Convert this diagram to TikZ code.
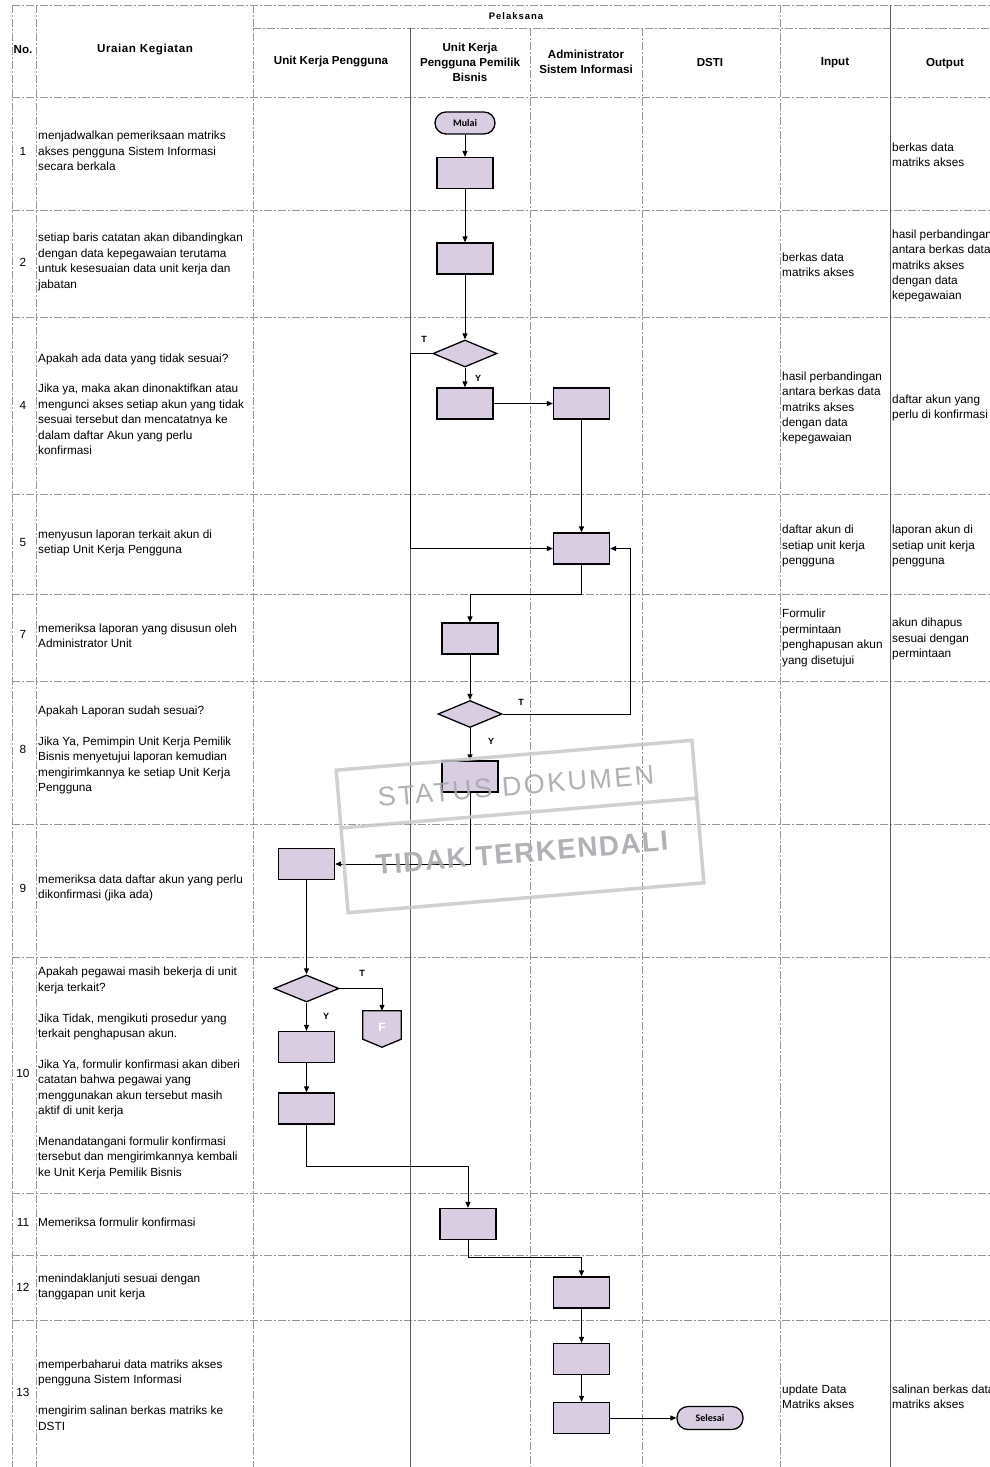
\documentclass[tikz,border=0pt]{standalone}
\usepackage{fontspec}
\setmainfont{Liberation Sans}
\newfontfamily\termfont{Carlito}
\usetikzlibrary{shapes.geometric,arrows.meta}
\definecolor{boxfill}{RGB}{217,205,226}
\definecolor{gridc}{RGB}{150,150,150}
\definecolor{wmark}{RGB}{168,168,174}
\definecolor{wframe}{RGB}{200,200,202}

\begin{document}
\begin{tikzpicture}[x=1pt,y=-1pt,
  every node/.style={inner sep=0pt},
  grid/.style={gridc, line width=0.6pt, dash pattern=on 8pt off 2pt on 2pt off 2pt},
  lane/.style={black!65, line width=0.8pt},
  proc/.style={rectangle, draw=black, fill=boxfill, line width=1.3pt, minimum width=56pt, minimum height=31pt},
  dec/.style={diamond, draw=black, fill=boxfill, line width=1.3pt, minimum width=64pt, minimum height=27pt},
  term/.style={rectangle, rounded corners=11pt, draw=black, fill=boxfill, line width=1.3pt, minimum width=60pt, minimum height=22pt, font=\termfont\bfseries\fontsize{10}{11}\selectfont},
  flow/.style={line width=1pt, -{Triangle[length=6pt,width=5pt]}},
  head/.style={font=\bfseries\fontsize{11.6}{15}\selectfont, align=center},
  desc/.style={anchor=west, align=left, font=\fontsize{11.8}{15.4}\selectfont},
  num/.style={font=\fontsize{11.8}{15.4}\selectfont},
  yt/.style={font=\bfseries\fontsize{9}{10}\selectfont}]
\useasboundingbox (0,0) rectangle (990,1467);

% grid of the table
\draw [grid] (12,5) -- (990,5);
\draw [grid] (253,28) -- (990,28);
\draw [grid] (12,97) -- (990,97);
\draw [grid] (12,210) -- (990,210);
\draw [grid] (12,317) -- (990,317);
\draw [grid] (12,494) -- (990,494);
\draw [grid] (12,594) -- (990,594);
\draw [grid] (12,681) -- (990,681);
\draw [grid] (12,824) -- (990,824);
\draw [grid] (12,957) -- (990,957);
\draw [grid] (12,1193) -- (990,1193);
\draw [grid] (12,1255) -- (990,1255);
\draw [grid] (12,1320) -- (990,1320);
\draw [grid] (12,5) -- (12,1467);
\draw [grid] (36,5) -- (36,1467);
\draw [grid] (253,5) -- (253,1467);
\draw [lane] (410,28) -- (410,1467);
\draw [grid] (530,28) -- (530,1467);
\draw [grid] (642,28) -- (642,1467);
\draw [grid] (780,5) -- (780,1467);
\draw [lane] (890,5) -- (890,1467);

% header
\node (hno) [head] at (23,50) {No.};
\node (hur) [head, font=\bfseries\fontsize{11.6}{15}\selectfont\addfontfeature{LetterSpace=5}] at (145,50) {Uraian Kegiatan};
\node (hpel) [head, font=\bfseries\fontsize{9.5}{11}\selectfont\addfontfeature{LetterSpace=10}] at (516,16) {Pelaksana};
\node (hukp) [head] at (331,62) {Unit Kerja Pengguna};
\node (hpb) [head] at (470,62) {Unit Kerja\\Pengguna Pemilik\\Bisnis};
\node (hadm) [head] at (586,62) {Administrator\\Sistem Informasi};
\node (hdsti) [head] at (710,63) {DSTI};
\node (hin) [head] at (835,63) {Input};
\node (hout) [head] at (945,64) {Output};

% numbers
\node (n1) [num] at (23,151) {1};
\node (n2) [num] at (23,262) {2};
\node (n4) [num] at (23,405) {4};
\node (n5) [num] at (23,542) {5};
\node (n7) [num] at (23,634) {7};
\node (n8) [num] at (23,749) {8};
\node (n9) [num] at (23,888) {9};
\node (n10) [num] at (23,1073) {10};
\node (n11) [num] at (23,1222) {11};
\node (n12) [num] at (23,1287) {12};
\node (n13) [num] at (23,1392) {13};

% uraian kegiatan
\node (u1) [desc] at (38,151) {menjadwalkan pemeriksaan matriks\\akses pengguna Sistem Informasi\\secara berkala};
\node (u2) [desc] at (38,262) {setiap baris catatan akan dibandingkan\\dengan data kepegawaian terutama\\untuk kesesuaian data unit kerja dan\\jabatan};
\node (u4) [desc] at (38,404) {Apakah ada data yang tidak sesuai?\\[15.4pt]Jika ya, maka akan dinonaktifkan atau\\mengunci akses setiap akun yang tidak\\sesuai tersebut dan mencatatnya ke\\dalam daftar Akun yang perlu\\konfirmasi};
\node (u5) [desc] at (38,543) {menyusun laporan terkait akun di\\setiap Unit Kerja Pengguna};
\node (u7) [desc] at (38,636) {memeriksa laporan yang disusun oleh\\Administrator Unit};
\node (u8) [desc] at (38,750) {Apakah Laporan sudah sesuai?\\[15.4pt]Jika Ya, Pemimpin Unit Kerja Pemilik\\Bisnis menyetujui laporan kemudian\\mengirimkannya ke setiap Unit Kerja\\Pengguna};
\node (u9) [desc] at (38,888) {memeriksa data daftar akun yang perlu\\dikonfirmasi (jika ada)};
\node (u10) [desc] at (38,1073) {Apakah pegawai masih bekerja di unit\\kerja terkait?\\[15.4pt]Jika Tidak, mengikuti prosedur yang\\terkait penghapusan akun.\\[15.4pt]Jika Ya, formulir konfirmasi akan diberi\\catatan bahwa pegawai yang\\menggunakan akun tersebut masih\\aktif di unit kerja\\[15.4pt]Menandatangani formulir konfirmasi\\tersebut dan mengirimkannya kembali\\ke Unit Kerja Pemilik Bisnis};
\node (u11) [desc] at (38,1222) {Memeriksa formulir konfirmasi};
\node (u12) [desc] at (38,1287) {menindaklanjuti sesuai dengan\\tanggapan unit kerja};
\node (u13) [desc] at (38,1395) {memperbaharui data matriks akses\\pengguna Sistem Informasi\\[15.4pt]mengirim salinan berkas matriks ke\\DSTI};

% input
\node (in2) [desc] at (782,265) {berkas data\\matriks akses};
\node (in4) [desc] at (782,408) {hasil perbandingan\\antara berkas data\\matriks akses\\dengan data\\kepegawaian};
\node (in5) [desc] at (782,546) {daftar akun di\\setiap unit kerja\\pengguna};
\node (in7) [desc] at (782,638) {Formulir\\permintaan\\penghapusan akun\\yang disetujui};
\node (in13) [desc] at (782,1397) {update Data\\Matriks akses};

% output
\node (out1) [desc] at (892,155) {berkas data\\matriks akses};
\node (out2) [desc] at (892,266) {hasil perbandingan\\antara berkas data\\matriks akses\\dengan data\\kepegawaian};
\node (out4) [desc] at (892,408) {daftar akun yang\\perlu di konfirmasi};
\node (out5) [desc] at (892,546) {laporan akun di\\setiap unit kerja\\pengguna};
\node (out7) [desc] at (892,639) {akun dihapus\\sesuai dengan\\permintaan};
\node (out13) [desc] at (892,1397) {salinan berkas data\\matriks akses};

% flow shapes
\node (mulai) [term] at (465,123) {Mulai};
\node (b1) [proc] at (465,173) {};
\node (b2) [proc] at (465,258.5) {};
\node (d4) [dec] at (465,353.5) {};
\node (b4a) [proc] at (465,403.5) {};
\node (b4b) [proc] at (581.5,403.5) {};
\node (b5) [proc] at (581.5,548.5) {};
\node (b7) [proc] at (470,638.5) {};
\node (d8) [dec] at (470,714) {};
\node (b8) [proc] at (470,776.5) {};
\node (b9) [proc] at (306.5,864) {};
\node (d10) [dec, minimum width=65pt] at (306.5,988.5) {};
\node (F) [minimum width=38pt, minimum height=36pt] at (382,1029) {};
\draw [fill=boxfill, line width=1.3pt] (F.north west) -- (F.north east) -- ([yshift=8pt]F.south east) -- (F.south) -- ([yshift=8pt]F.south west) -- cycle;
\node (Fl) [text=white, font=\bfseries\fontsize{12}{12}\selectfont] at ([yshift=2pt]F.center) {F};
\node (b10a) [proc] at (306.5,1047) {};
\node (b10b) [proc] at (306.5,1108.5) {};
\node (b11) [proc] at (468,1224) {};
\node (b12) [proc] at (581.5,1292.5) {};
\node (b13a) [proc] at (581.5,1359) {};
\node (b13b) [proc] at (581.5,1418) {};
\node (selesai) [term, minimum width=66pt, minimum height=23pt] at (710,1418) {Selesai};

% bends
\coordinate (k1) at (410,548.5);
\coordinate (k2) at (470,594);
\coordinate (k3) at (630,548.5);
\coordinate (k4) at (468,1166);
\coordinate (k5) at (581.5,1257);

% connectors
\draw [flow] (mulai) to (b1);
\draw [flow] (b1) to (b2);
\draw [flow] (b2) to (d4);
\draw [flow] (d4.west) -| (k1) -- (b5.west);
\draw [flow] (d4) to (b4a);
\draw [flow] (b4a) to (b4b);
\draw [flow] (b4b) to (b5);
\draw [flow] (b5.south) |- (k2) -- (b7.north);
\draw [flow] (b7) to (d8);
\draw [flow] (d8.east) -| (k3) -- (b5.east);
\draw [flow] (d8) to (b8);
\draw [flow] (b8.south) |- (b9.east);
\draw [flow] (b9) to (d10);
\draw [flow] (d10.east) -| (F.north);
\draw [flow] (d10) to (b10a);
\draw [flow] (b10a) to (b10b);
\draw [flow] (b10b.south) |- (k4) -- (b11.north);
\draw [flow] (b11.south) |- (k5) -- (b12.north);
\draw [flow] (b12) to (b13a);
\draw [flow] (b13a) to (b13b);
\draw [flow] (b13b) to (selesai);

% T / Y labels
\node (t4) [yt] at (424,339) {T};
\node (y4) [yt] at (478,378) {Y};
\node (t8) [yt] at (521,702) {T};
\node (y8) [yt] at (491,741) {Y};
\node (t10) [yt] at (362,973) {T};
\node (y10) [yt] at (326,1016) {Y};

% watermark
\begin{scope}[rotate around={4.8:(520,826.5)}, opacity=0.85]
\draw [wframe, line width=3.5pt] (341.5,755) rectangle (698.5,898);
\draw [wframe, line width=3.5pt] (341.5,813) -- (698.5,813);
\end{scope}
\node (wm1) [wmark, opacity=0.9, rotate=4.8, font=\fontsize{27}{27}\selectfont\addfontfeature{LetterSpace=9}] at (516,786) {STATUS DOKUMEN};
\node (wm2) [wmark, opacity=0.9, rotate=4.8, font=\bfseries\fontsize{28}{28}\selectfont\addfontfeature{LetterSpace=5}] at (522,853) {TIDAK TERKENDALI};
\end{tikzpicture}
\end{document}
